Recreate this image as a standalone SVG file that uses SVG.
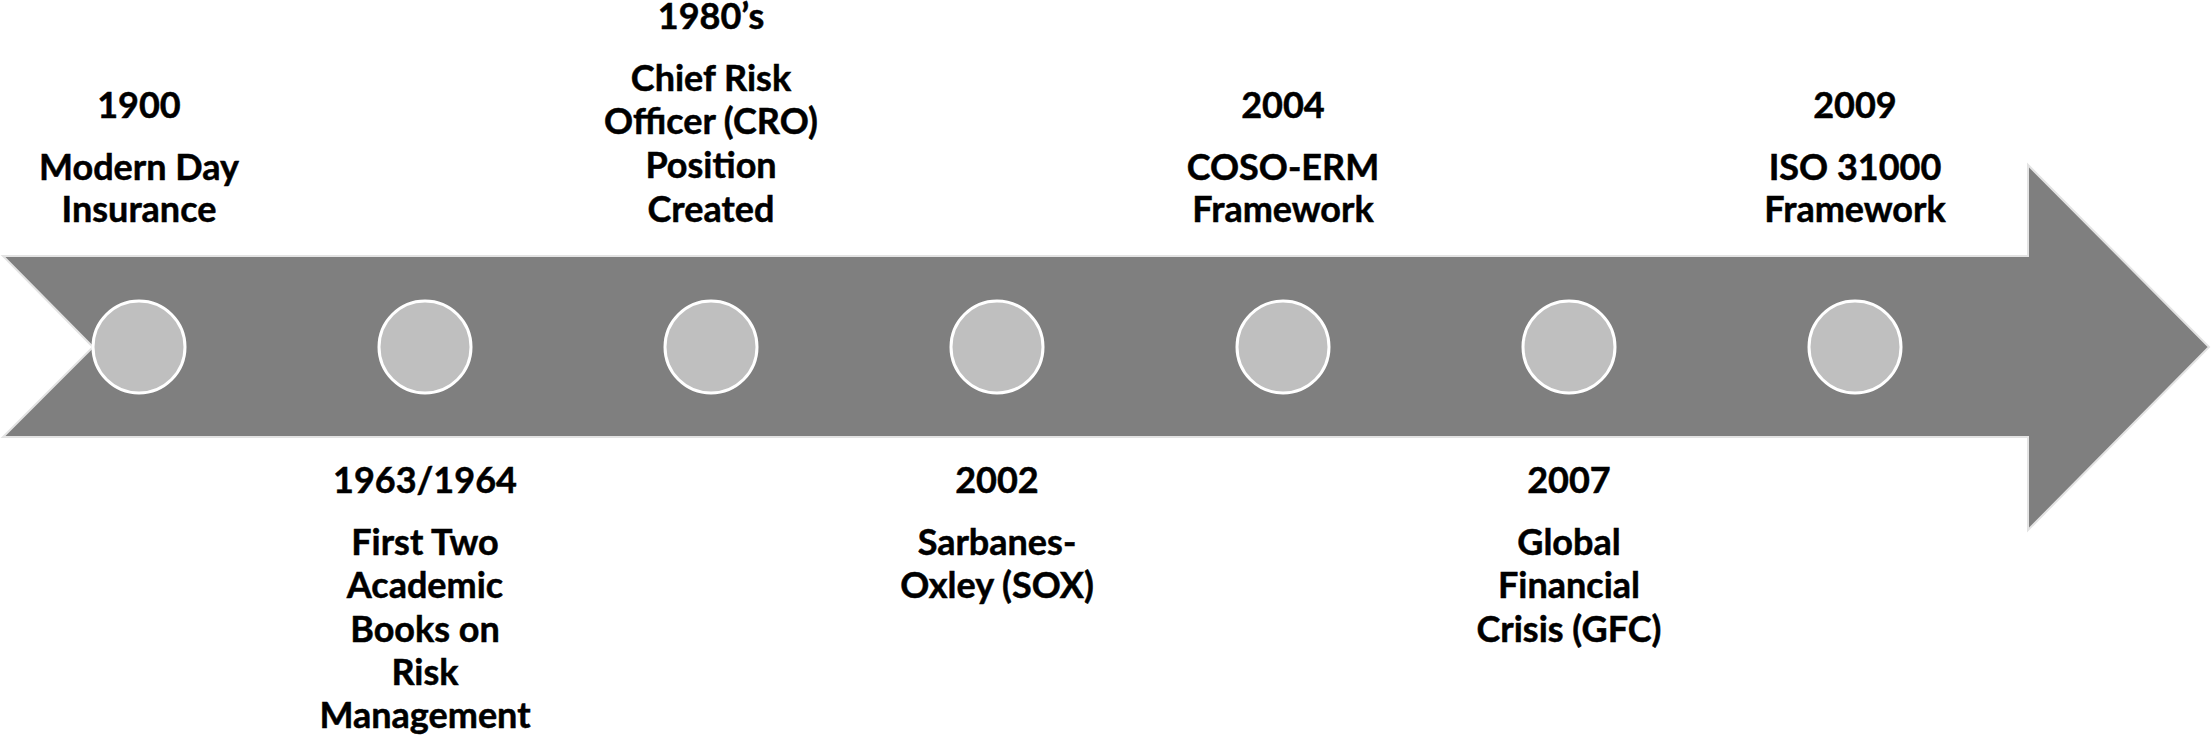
<svg xmlns="http://www.w3.org/2000/svg" width="2211" height="737" viewBox="0 0 2211 737">
<style>
.t{font-family:Lato,"Liberation Sans",sans-serif;font-weight:bold;font-size:36px;fill:#000;text-anchor:middle;stroke:#000;stroke-width:0.5}
.dot{fill:#bfbfbf;stroke:#fff;stroke-width:3}
</style>
<rect width="2211" height="737" fill="#fff"/>
<g id="connectors">
<polygon points="3,256 2028,256 2028,165 2209,347 2028,530 2028,437 3,437 93,347" fill="#7f7f7f" stroke="#e3e3e3" stroke-width="2"/>
</g>
<g id="n1900"><circle class="dot" cx="139" cy="347" r="46"/>
<text class="t" x="139" y="118">1900</text><text class="t" x="139" y="180">Modern Day</text><text class="t" x="139" y="222">Insurance</text></g>
<g id="n1963"><circle class="dot" cx="425" cy="347" r="46"/>
<text class="t" x="425" y="493">1963/1964</text><text class="t" x="425" y="555">First Two</text><text class="t" x="425" y="598">Academic</text><text class="t" x="425" y="642">Books on</text><text class="t" x="425" y="685">Risk</text><text class="t" x="425" y="728">Management</text></g>
<g id="n1980"><circle class="dot" cx="711" cy="347" r="46"/>
<text class="t" x="711" y="29">1980’s</text><text class="t" x="711" y="91">Chief Risk</text><text class="t" x="711" y="134">Officer (CRO)</text><text class="t" x="711" y="178">Position</text><text class="t" x="711" y="222">Created</text></g>
<g id="n2002"><circle class="dot" cx="997" cy="347" r="46"/>
<text class="t" x="997" y="493">2002</text><text class="t" x="997" y="555">Sarbanes-</text><text class="t" x="997" y="598">Oxley (SOX)</text></g>
<g id="n2004"><circle class="dot" cx="1283" cy="347" r="46"/>
<text class="t" x="1283" y="118">2004</text><text class="t" x="1283" y="180">COSO-ERM</text><text class="t" x="1283" y="222">Framework</text></g>
<g id="n2007"><circle class="dot" cx="1569" cy="347" r="46"/>
<text class="t" x="1569" y="493">2007</text><text class="t" x="1569" y="555">Global</text><text class="t" x="1569" y="598">Financial</text><text class="t" x="1569" y="642">Crisis (GFC)</text></g>
<g id="n2009"><circle class="dot" cx="1855" cy="347" r="46"/>
<text class="t" x="1855" y="118">2009</text><text class="t" x="1855" y="180">ISO 31000</text><text class="t" x="1855" y="222">Framework</text></g>
</svg>
